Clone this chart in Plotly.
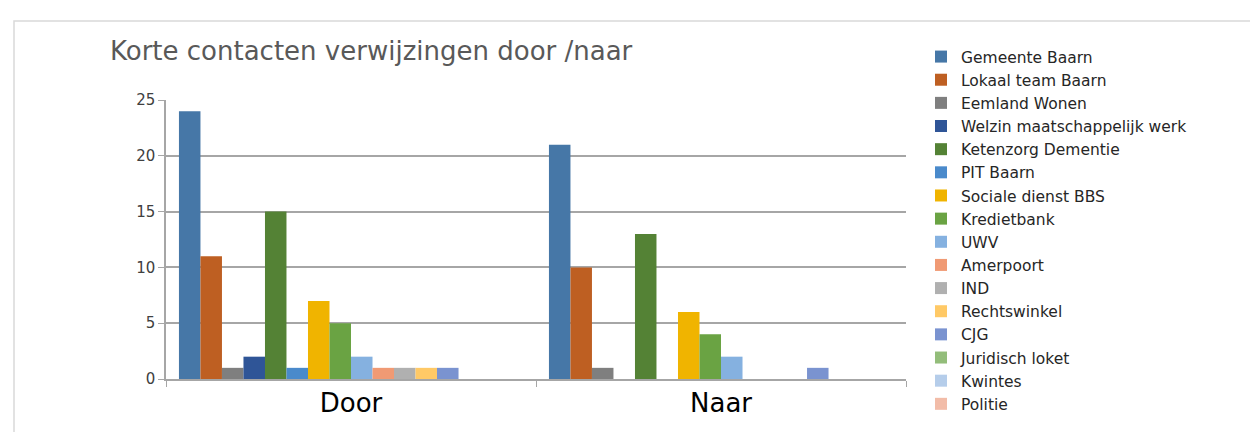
import plotly.graph_objects as go

categories = ["Door", "Naar"]
series_names = [
    "Gemeente Baarn", "Lokaal team Baarn", "Eemland Wonen", "Welzin maatschappelijk werk",
    "Ketenzorg Dementie", "PIT Baarn", "Sociale dienst BBS", "Kredietbank", "UWV",
    "Amerpoort", "IND", "Rechtswinkel", "CJG", "Juridisch loket", "Kwintes", "Politie",
]
door_values = [24, 11, 1, 2, 15, 1, 7, 5, 2, 1, 1, 1, 1, None, None, None]
naar_values = [21, 10, 1, None, 13, None, 6, 4, 2, None, None, None, 1, 0, 0, 0]
colors = [
    "#4677A7", "#BE5F22", "#7F7F7F", "#2F5597", "#548235", "#4A8ACB", "#F0B400", "#6AA343",
    "#85B1E0", "#F09A74", "#B0B0B0", "#FFC966", "#7A93D0", "#93BD7A", "#B5CDEA", "#F2BCA8",
]

fig = go.Figure()
for name, d, n, c in zip(series_names, door_values, naar_values, colors):
    fig.add_trace(go.Bar(
        x=categories, y=[d, n], name=name, marker=dict(color=c, line=dict(width=0)),
    ))

W, H = 1258, 432
L, R, T, B = 158, 360, 92, 61
pw, ph = W - L - R, H - T - B

def px_x(v):
    return (v - L) / pw

def px_y(v):
    return (H - B - v) / ph

fig.update_layout(
    width=W, height=H,
    margin=dict(l=L, r=R, t=T, b=B),
    paper_bgcolor="white", plot_bgcolor="white",
    barmode="group", bargap=0.07, bargroupgap=0,
    font=dict(family="DejaVu Sans", color="#404040"),
    title=dict(
        text="Korte contacten verwijzingen door /naar",
        xref="container", yref="container",
        x=102 / W, xanchor="left", y=1 - 43 / H, yanchor="middle",
        font=dict(size=26, color="#595959", family="DejaVu Sans"),
    ),
    legend=dict(
        x=px_x(913), xanchor="left", y=px_y(32), yanchor="top",
        font=dict(size=15.5, color="#262626", family="DejaVu Sans"),
        tracegroupgap=0, itemwidth=30, bgcolor="rgba(0,0,0,0)",
        maxheight=420,
    ),
    showlegend=True,
    shapes=[dict(
        type="rect", xref="paper", yref="paper",
        x0=px_x(6), x1=px_x(1270), y0=px_y(440), y1=px_y(13),
        line=dict(color="#D9D9D9", width=1.5), fillcolor="rgba(0,0,0,0)", layer="below",
    )],
)
fig.update_xaxes(
    showline=True, linecolor="#A6A6A6", linewidth=1.5,
    ticks="outside", tickson="boundaries", ticklen=6, tickcolor="#A6A6A6",
    tickfont=dict(size=26, color="#000000", family="DejaVu Sans"),
    showgrid=False,
)
fig.update_yaxes(
    range=[0, 25], tickvals=[0, 5, 10, 15, 20, 25],
    showgrid=True, gridcolor="#A6A6A6", gridwidth=1.5,
    showline=True, linecolor="#A6A6A6", linewidth=1.5,
    ticks="outside", ticklen=6, tickcolor="#A6A6A6",
    tickfont=dict(size=15, color="#404040", family="DejaVu Sans"),
    zeroline=False,
)

fig.write_html("out.html")
